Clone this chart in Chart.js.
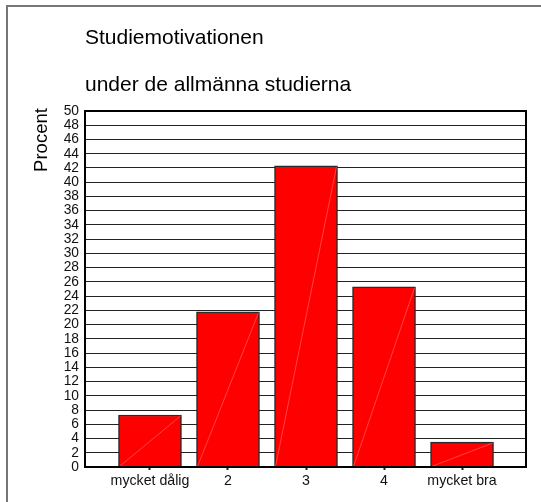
<!DOCTYPE html>
<html>
<head>
<meta charset="utf-8">
<script src="https://cdn.jsdelivr.net/npm/chart.js@4"></script>
<style>
  html, body { margin: 0; padding: 0; background: #fff; }
  #wrap { width: 541px; height: 502px; position: relative; }
</style>
</head>
<body>
<div id="wrap"><canvas id="chart" width="541" height="502"></canvas></div>
<script>
// data
const categories = ['mycket dålig', '2', '3', '4', 'mycket bra'];
const positions  = [1, 2, 3, 4, 5];
const percent    = [7.3, 21.8, 42.3, 25.3, 3.5];
const titleLines = ['Studiemotivationen', 'under de allmänna studierna'];
const yLabel     = 'Procent';

const FONT = '"Liberation Sans", Arial, sans-serif';

// frame, titles, plot border, diagonal artefact in the bars
const decor = {
  id: 'decor',
  beforeDraw(chart) {
    const ctx = chart.ctx;
    ctx.save();
    ctx.fillStyle = '#fff';
    ctx.fillRect(0, 0, chart.width, chart.height);
    ctx.strokeStyle = '#777';
    ctx.lineWidth = 2;
    ctx.beginPath();
    ctx.moveTo(7, chart.height);
    ctx.lineTo(7, 6);
    ctx.lineTo(chart.width, 6);
    ctx.stroke();

    ctx.fillStyle = '#000';
    ctx.font = '21px ' + FONT;
    ctx.textBaseline = 'alphabetic';
    ctx.fillText(titleLines[0], 85, 44);
    ctx.fillText(titleLines[1], 85, 91);

    ctx.translate(47, 140);
    ctx.rotate(-Math.PI / 2);
    ctx.font = '18.5px ' + FONT;
    ctx.textAlign = 'center';
    ctx.fillText(yLabel, 0, 0);
    ctx.restore();
  },
  afterDatasetsDraw(chart) {
    const ctx = chart.ctx;
    const meta = chart.getDatasetMeta(0);
    ctx.save();
    ctx.strokeStyle = 'rgba(255,160,160,0.7)';
    ctx.lineWidth = 0.6;
    meta.data.forEach(bar => {
      const p = bar.getProps(['x', 'y', 'base', 'width'], true);
      ctx.beginPath();
      ctx.moveTo(p.x - p.width / 2 + 1, p.base);
      ctx.lineTo(p.x + p.width / 2 - 1, p.y + 1);
      ctx.stroke();
    });
    ctx.restore();
  },
  afterDraw(chart) {
    const a = chart.chartArea;
    const ctx = chart.ctx;
    ctx.save();
    ctx.strokeStyle = '#000';
    ctx.lineWidth = 2;
    ctx.strokeRect(a.left, a.top, a.right - a.left, a.bottom - a.top);
    ctx.restore();
  }
};

new Chart(document.getElementById('chart').getContext('2d'), {
  type: 'bar',
  data: {
    datasets: [{
      data: positions.map((x, i) => ({ x, y: percent[i] })),
      backgroundColor: '#ff0000',
      borderColor: '#2a2a2a',
      borderWidth: 1.5,
      barThickness: 63,
    }],
  },
  options: {
    responsive: false,
    animation: false,
    layout: { padding: { top: 111, right: 15, left: 0, bottom: 0 } },
    plugins: {
      legend: { display: false },
      tooltip: { enabled: false },
    },
    scales: {
      x: {
        type: 'linear',
        offset: false,
        min: 0.167,
        max: 5.82,
        afterBuildTicks: s => { s.ticks = positions.map(v => ({ value: v })); },
        afterFit: s => { s.height = 35; },
        grid: { drawOnChartArea: false, tickLength: 3, tickWidth: 2, color: '#222', offset: false },
        border: { color: '#000', width: 2 },
        ticks: {
          color: '#111',
          padding: 3,
          font: { family: FONT, size: 14.2 },
          callback: v => categories[positions.indexOf(v)] || '',
          maxRotation: 0,
          autoSkip: false,
        },
      },
      y: {
        min: 0,
        max: 50,
        afterFit: s => { s.width = 85; },
        grid: { color: '#222', lineWidth: 1, drawTicks: false },
        border: { color: '#000', width: 2 },
        ticks: {
          stepSize: 2,
          color: '#111',
          padding: 6,
          autoSkip: false,
          font: { family: FONT, size: 13.8 },
        },
      },
    },
  },
  plugins: [decor],
});
</script>
</body>
</html>
